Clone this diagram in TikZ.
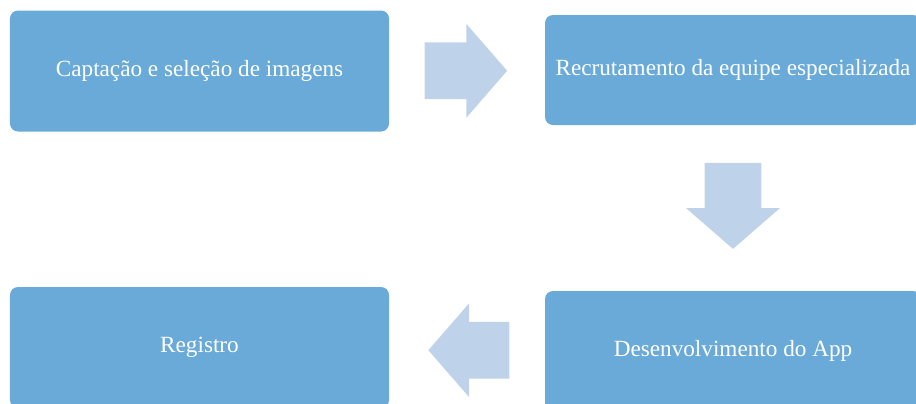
\documentclass[tikz,border=0pt]{standalone}
\usepackage{fontspec}
\setmainfont{Liberation Serif}
\usetikzlibrary{calc,shapes.arrows}

\definecolor{stageblue}{HTML}{6AAAD9}
\definecolor{flowblue}{HTML}{BED3EA}

\tikzset{
  stage/.style={rectangle, rounded corners=1.6mm, fill=stageblue, text=white,
                inner sep=0, font=\fontsize{13.2}{16}\selectfont},
  flow arrow/.style={single arrow, fill=flowblue, inner xsep=0, inner ysep=5.6mm,
                     minimum height=16.5mm, minimum width=18.8mm, anchor=tail,
                     single arrow head extend=3.7mm, single arrow tip angle=98},
}

\begin{document}
\begin{tikzpicture}[x=0.2mm, y=-0.2mm,
      wide/.style={minimum width=75.8mm, minimum height=24.2mm},
    ]
    \useasboundingbox (0,0) rectangle (916,403);
    \clip (0,0) rectangle (916,403);

    % Stages of the process
    \node[stage, wide] (capt) at (199.5, 71) {Captação e seleção de imagens};
    \node[stage, minimum width=75.2mm, minimum height=22mm] (recr) at (733, 70) {Recrutamento da equipe especializada};
    \node[stage, minimum width=75.2mm, minimum height=24mm] (dev) at (733, 351) {Desenvolvimento do App};
    \node[stage, wide] (reg) at (199.5, 347.5) {Registro};

    % Flow arrows between stages (tail placed just off the previous stage)
    \node[flow arrow] (a1) at ($(capt.east)!0.225!(recr.west)$) {};
    \node[flow arrow, rotate=270, minimum height=17.2mm] (a2) at ($(recr.south)!0.225!(dev.north)$) {};
    \node[flow arrow, rotate=180, minimum height=16.2mm] (a3) at ($(dev.west)!0.225!(reg.east)$) {};
  \end{tikzpicture}
\end{document}
